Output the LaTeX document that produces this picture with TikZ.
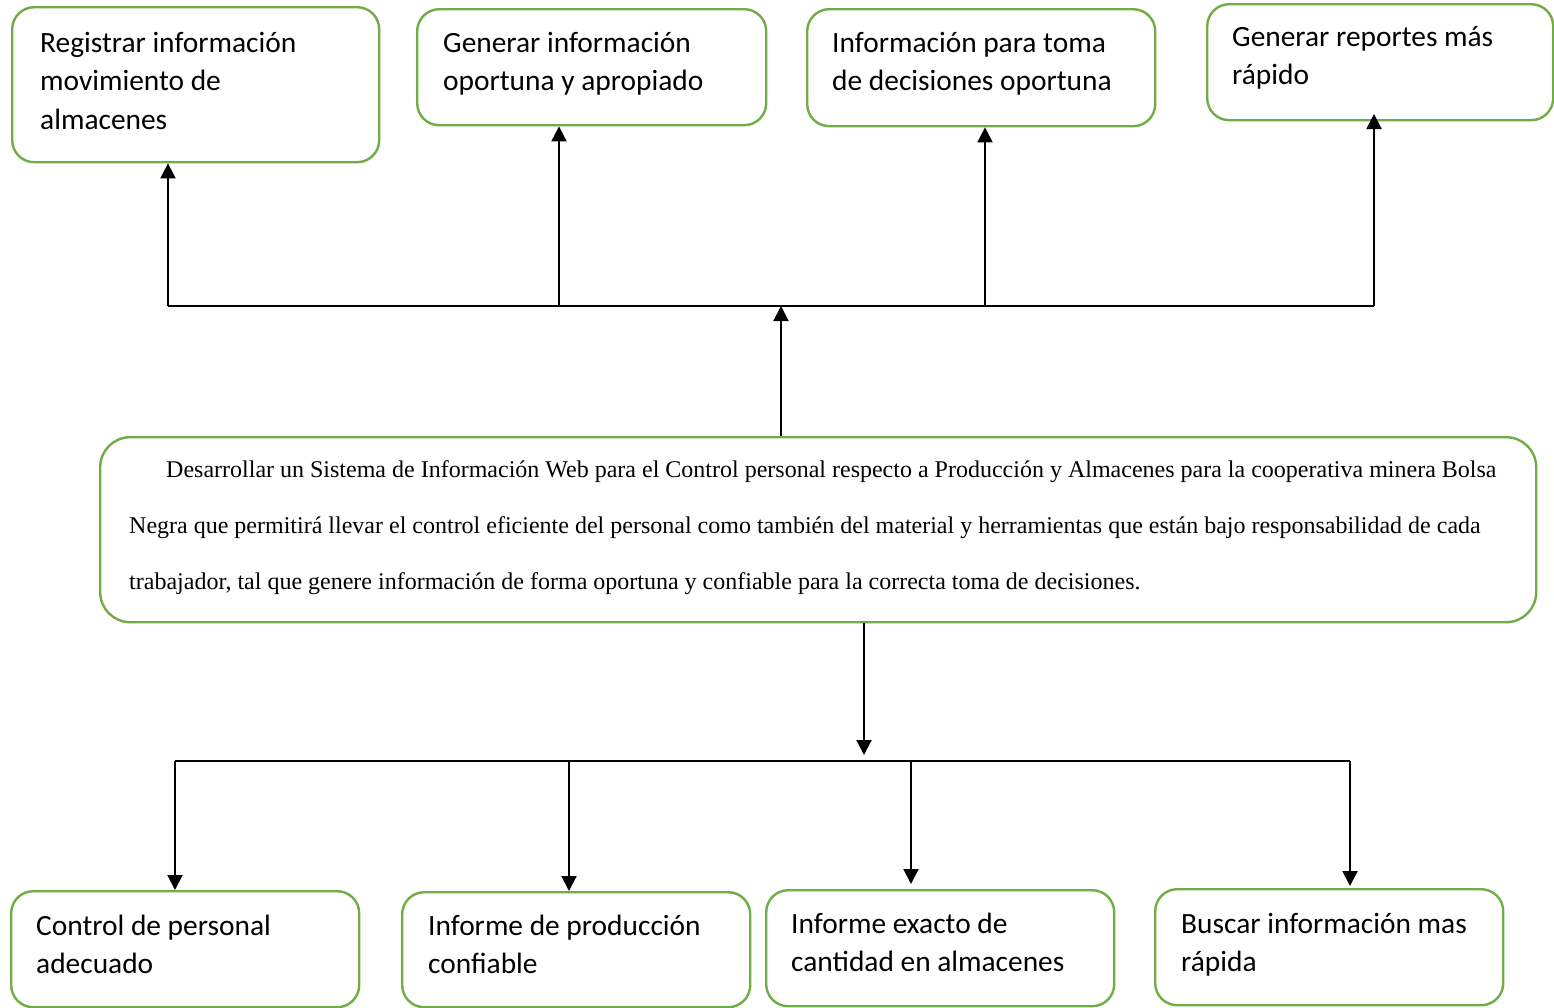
\documentclass[tikz,border=0pt]{standalone}
\usepackage{fontspec}
\setmainfont{Liberation Serif}
\newfontfamily\boxfont{Carlito}
\usetikzlibrary{arrows.meta}
\definecolor{boxgreen}{HTML}{70AD47}
\tikzset{
  gbox/.style={draw=boxgreen, line width=2.4pt, rounded corners=22pt, fill=white, inner sep=0pt},
  lbl/.style={anchor=north west, inner sep=0pt, align=left,
    font=\boxfont\fontsize{29.4}{38.5}\selectfont},
  link/.style={line width=2pt, -{Triangle[width=15pt,length=15pt]}},
  bar/.style={line width=1.5pt}
}
\newcommand{\fl}{\rule{0pt}{27pt}}
\newcommand{\gboxat}[5]{\node[gbox, anchor=north west, minimum width=#3-#1, minimum height=#4-#2] (#5) at (#1,#2) {};}
\begin{document}
\begin{tikzpicture}[x=1pt,y=-1pt]
\useasboundingbox (0,0) rectangle (1554,1007);

% upper row of results
\gboxat{11}{6}{378}{161}{t1}
\gboxat{416}{8}{765}{124}{t2}
\gboxat{806}{8}{1154}{125}{t3}
\gboxat{1206}{3}{1552}{119}{t4}
\node[lbl] (t1l) at (40,52-27) {\fl Registrar información\\movimiento de\\almacenes};
\node[lbl] (t2l) at (443,52-27) {\fl Generar información\\oportuna y apropiado};
\node[lbl] (t3l) at (832,52-27) {\fl Información para toma\\de decisiones oportuna};
\node[lbl] (t4l) at (1232,46-27) {\fl Generar reportes más\\rápido};

% central objective
\node[gbox, rounded corners=30pt, anchor=north west, minimum width=1436, minimum height=185] (mid) at (99,436) {};
\node[anchor=north west, inner sep=0pt, align=left, font=\fontsize{24}{56}\selectfont] (midl) at (129,477-22)
 {\rule{0pt}{22pt}\hspace*{37pt}Desarrollar un Sistema de Información Web para el Control personal respecto a Producción y Almacenes para la cooperativa minera Bolsa\\
  Negra que permitirá llevar el control eficiente del personal como también del material y herramientas que están bajo responsabilidad de cada\\
  trabajador, tal que genere información de forma oportuna y confiable para la correcta toma de decisiones.};

% lower row of results
\gboxat{10}{890}{358}{1006}{b1}
\gboxat{401}{891}{749}{1006}{b2}
\gboxat{765}{889}{1113}{1005}{b3}
\gboxat{1154}{888}{1502}{1004}{b4}
\node[lbl] (b1l) at (36,935-27) {\fl Control de personal\\adecuado};
\node[lbl] (b2l) at (428,935-27) {\fl Informe de producción\\confiable};
\node[lbl] (b3l) at (791,933-27) {\fl Informe exacto de\\cantidad en almacenes};
\node[lbl] (b4l) at (1181,933-27) {\fl Buscar información mas\\rápida};

% upper distribution bar
\coordinate (ua) at (168,306);
\coordinate (ub) at (559,306);
\coordinate (uc) at (781,306);
\coordinate (ud) at (985,306);
\coordinate (ue) at (1374,306);
\draw[bar] (ua) -- (ue);
\draw[link] (ua) -- (ua |- t1.south);
\draw[link] (ub) -- (ub |- t2.south);
\draw[link] (ud) -- (ud |- t3.south);
\draw[link] (ue) -- (1374,114);
\draw[link] (uc |- mid.north) -- (uc);

% lower distribution bar
\coordinate (da) at (175,761);
\coordinate (db) at (569,761);
\coordinate (dc) at (911,761);
\coordinate (dd) at (1350,761);
\coordinate (dm) at (864,755);
\draw[link] (dm |- mid.south) -- (dm);
\draw[bar] (da) -- (dd);
\draw[link] (da) -- (da |- b1.north);
\draw[link] (db) -- (db |- b2.north);
\draw[link] (dc) -- (911,884);
\draw[link] (dd) -- (1350,886);
\end{tikzpicture}
\end{document}
